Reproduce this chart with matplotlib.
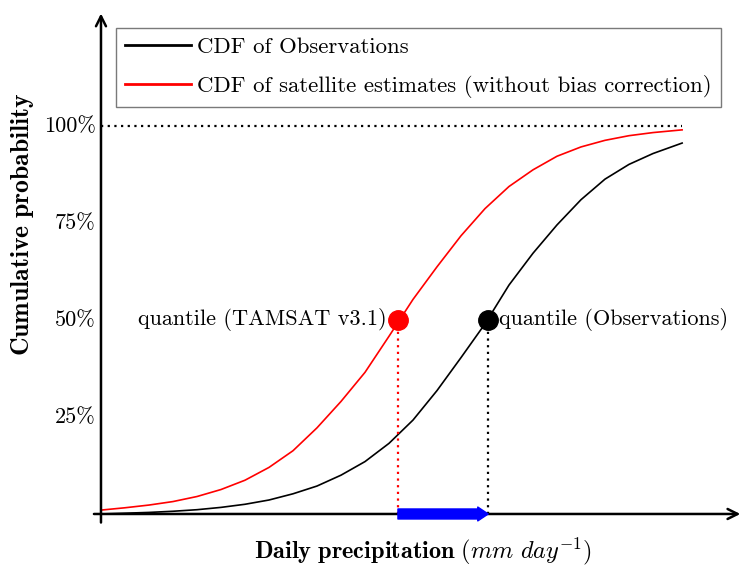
import matplotlib
matplotlib.use("Agg")
import matplotlib.pyplot as plt

plt.rcParams['font.family'] = ['cmr10', 'DejaVu Serif']
plt.rcParams['mathtext.fontset'] = 'cm'
plt.rcParams['axes.unicode_minus'] = False

# precipitation axis (arbitrary units) and cumulative probabilities
precip = [0.0, 0.375, 0.75, 1.125, 1.5, 1.875, 2.25, 2.625, 3.0, 3.375, 3.75,
          4.125, 4.5, 4.875, 5.25, 5.625, 6.0, 6.375, 6.75, 7.125, 7.5, 7.875,
          8.25, 8.625, 9.08]
cdf_obs = [0.0, 0.002, 0.004, 0.007, 0.011, 0.017, 0.025, 0.036, 0.052, 0.072,
           0.100, 0.135, 0.182, 0.242, 0.318, 0.403, 0.49, 0.59, 0.672, 0.745,
           0.810, 0.863, 0.901, 0.929, 0.956]
cdf_sat = [0.010, 0.016, 0.023, 0.032, 0.045, 0.063, 0.087, 0.12, 0.163, 0.222,
           0.29, 0.365, 0.458, 0.553, 0.637, 0.717, 0.787, 0.844, 0.887, 0.922,
           0.946, 0.963, 0.975, 0.983, 0.99]
q_level = 0.5
q_sat = 4.64
q_obs = 6.05
yticks = [0.25, 0.5, 0.75, 1.0]
ylabels = ['25%', '50%', '75%', '100%']

fig = plt.figure(figsize=(7.41, 5.67), dpi=100)
ax = fig.add_axes([0.119, 0.0593, 0.881, 0.9238])
ax.set_xlim(-0.2, 10.0)
ax.set_ylim(-0.05, 1.3)
ax.axis('off')

# axes with arrow heads
ax.annotate('', xy=(0, 1.29), xytext=(0, -0.022),
            arrowprops=dict(arrowstyle='->', lw=1.8, color='black',
                            shrinkA=0, shrinkB=0, mutation_scale=18))
ax.annotate('', xy=(9.99, 0), xytext=(-0.11, 0),
            arrowprops=dict(arrowstyle='->', lw=1.8, color='black',
                            shrinkA=0, shrinkB=0, mutation_scale=18))

for v, lab in zip(yticks, ylabels):
    ax.text(-0.08, v, lab, ha='right', va='center', fontsize=16)

ax.plot([0, precip[-1]], [1.0, 1.0], color='black', lw=1.6, ls=(0, (1, 2)))

l1, = ax.plot(precip, cdf_obs, color='black', lw=1.2)
l2, = ax.plot(precip, cdf_sat, color='red', lw=1.2)

ax.plot([q_sat, q_sat], [0, q_level], color='red', lw=1.6, ls=(0, (1, 2)))
ax.plot([q_obs, q_obs], [0, q_level], color='black', lw=1.6, ls=(0, (1, 2)))

ax.annotate('', xy=(q_obs, 0), xytext=(q_sat, 0),
            arrowprops=dict(arrowstyle='simple,head_width=1.0,head_length=0.75,tail_width=0.72',
                            color='blue', shrinkA=0, shrinkB=0, mutation_scale=10), zorder=5)

ax.plot([q_sat], [q_level], 'o', color='red', ms=14, zorder=6)
ax.plot([q_obs], [q_level], 'o', color='black', ms=14, zorder=6)
ax.text(q_sat - 0.17, q_level, 'quantile (TAMSAT v3.1)', ha='right', va='center', fontsize=16)
ax.text(q_obs + 0.17, q_level, 'quantile (Observations)', ha='left', va='center', fontsize=16)

leg = fig.legend([l1, l2], ['CDF of Observations',
                            'CDF of satellite estimates (without bias correction)'],
                 loc='upper left', bbox_to_anchor=(116 / 741, 1 - 28 / 567),
                 fontsize=16.4, frameon=True, fancybox=False, edgecolor='0.35',
                 handlelength=2.9, handletextpad=0.25, labelspacing=0.8,
                 borderaxespad=0, borderpad=0.4)
leg.get_frame().set_linewidth(1.0)
for h in leg.get_lines():
    h.set_linewidth(2.0)

fig.text(423 / 741, 1 - 551 / 567, r'$\mathbf{Daily\ precipitation}\ (mm\ day^{-1})$',
         ha='center', va='center', fontsize=17.5)
fig.text(23 / 741, 1 - 224 / 567, r'$\mathbf{Cumulative\ probability}$',
         ha='center', va='center', rotation=90, fontsize=18.5)

fig.savefig('out.png', dpi=100)
